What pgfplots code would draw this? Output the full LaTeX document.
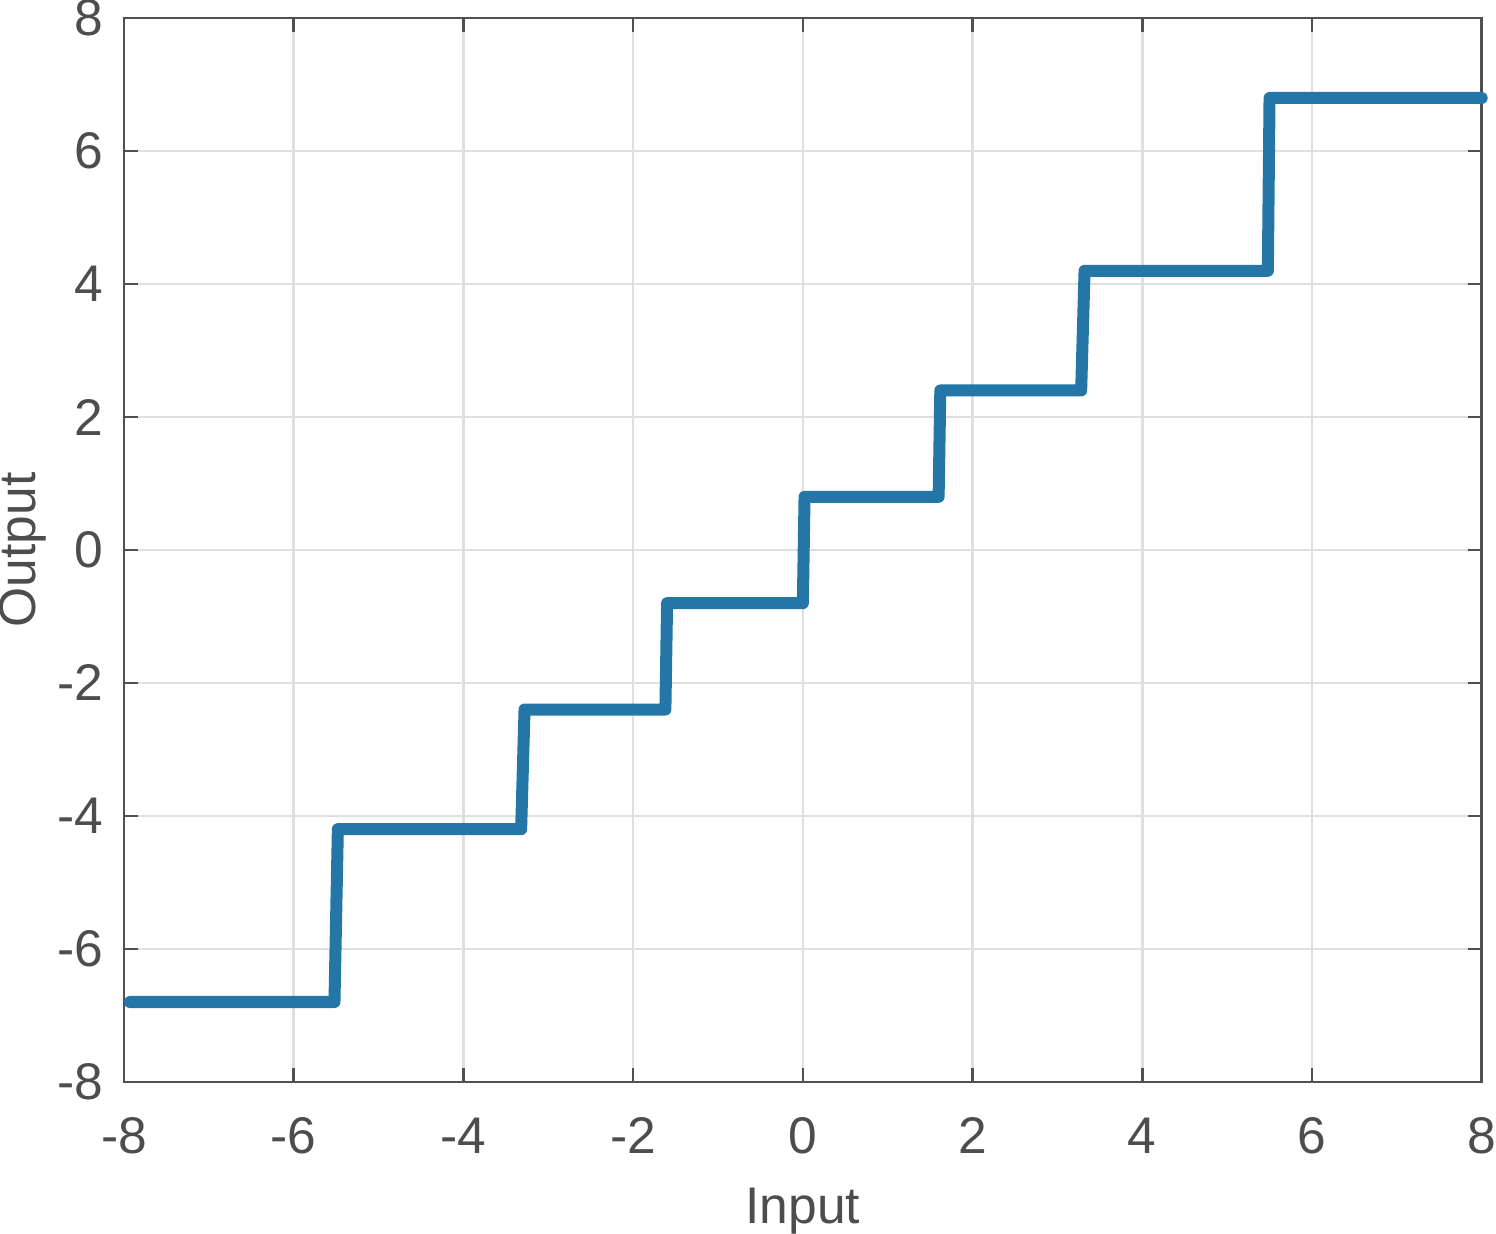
\documentclass[border=0pt]{standalone}
\usepackage{pgfplots}
\pgfplotsset{compat=1.18}
\usepackage{fontspec}
\setmainfont{Liberation Sans}
\definecolor{txt}{RGB}{77,77,77}
\definecolor{axc}{RGB}{80,80,80}
\definecolor{gridc}{RGB}{223,223,223}
\definecolor{line1}{RGB}{36,118,166}
\begin{document}
\begin{tikzpicture}
\begin{axis}[
  width=271.4pt, height=212.6pt, scale only axis,
  xmin=-8, xmax=8, ymin=-8, ymax=8,
  xtick={-8,-6,...,8}, ytick={-8,-6,...,8},
  grid=major,
  major grid style={gridc, line width=0.5pt},
  axis line style={axc, line width=0.5pt},
  tick style={axc, line width=0.5pt},
  major tick length=2.8pt,
  tick align=inside,
  xtick pos=both, ytick pos=both,
  xticklabel pos=lower, yticklabel pos=left,
  font=\fontsize{10.3}{12}\selectfont,
  tick label style={txt, font=\fontsize{10.3}{12}\selectfont},
  /pgf/number format/assume math mode=true,
  yticklabel style={anchor=east, inner sep=0pt, xshift=-4pt},
  xticklabel style={anchor=north, inner sep=0pt, yshift=-7pt},
  xlabel={Input}, ylabel={Output},
  label style={txt, font=\fontsize{10.3}{12}\selectfont},
  xlabel style={at={(axis description cs:0.5,-0.0988)}, anchor=north, inner sep=0pt},
  ylabel style={at={(axis description cs:-0.0921,0.5)}, anchor=north, inner sep=0pt},
  clip=false,
]
\addplot[line1, line width=2.4pt, line join=round, line cap=round] coordinates {
(-7.93,-6.8) (-5.52,-6.8) (-5.48,-4.2)
(-3.32,-4.2) (-3.28,-2.4)
(-1.62,-2.4) (-1.60,-0.8)
(0.0,-0.8) (0.02,0.8)
(1.60,0.8) (1.62,2.4)
(3.28,2.4) (3.32,4.2)
(5.48,4.2) (5.50,6.8)
(8,6.8)
};
\end{axis}
\end{tikzpicture}
\end{document}
